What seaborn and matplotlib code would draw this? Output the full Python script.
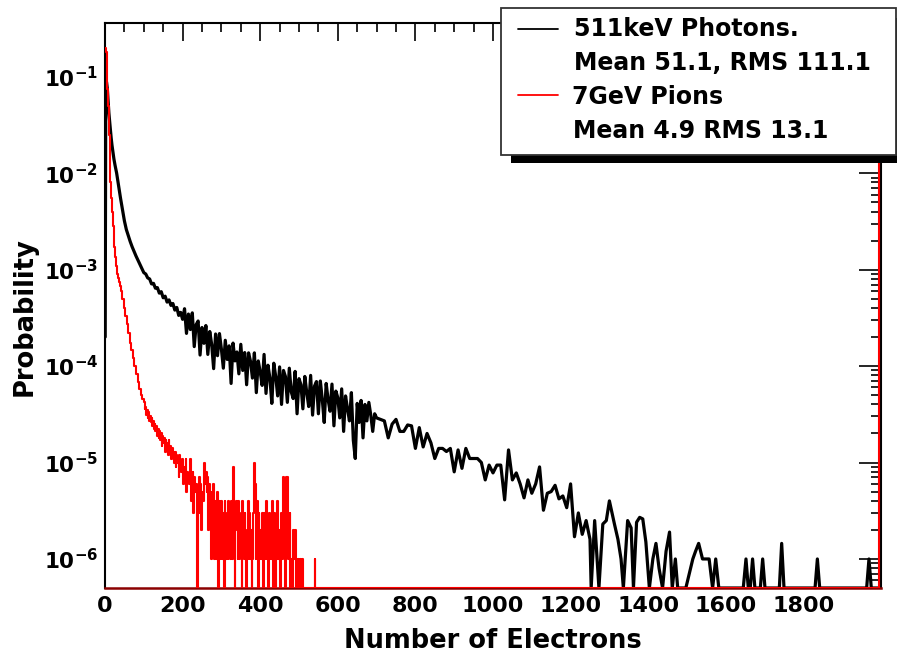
import numpy as np
import pandas as pd
import matplotlib
matplotlib.use("Agg")
import matplotlib.pyplot as plt
import seaborn as sns
from matplotlib.patches import Rectangle
from matplotlib.lines import Line2D
from matplotlib.ticker import FixedLocator, LogLocator, NullFormatter, FixedFormatter

# ---------------- data (probabilities in units of 1e-6) ----------------
UNIT = 1e-6

# 511 keV photons (black curve)
black_head_x = [0.5, 2, 4, 6, 8, 10, 12, 14, 16, 18, 20, 23, 26]
black_head_y = [200, 85000, 88000, 75000, 55000, 42000, 34000, 28000, 23000, 19500, 17000, 14000, 12000]

black_core_x = list(range(30, 705, 5))
black_core_y = [10000, 7400, 5500, 4200, 3200, 2600, 2250, 1950, 1720, 1540, 1380, 1250, 1130, 1020, 930,
                900, 820, 800, 710, 720, 640, 650, 570, 590, 510, 530, 460, 485, 425, 445, 380, 405, 335, 360, 305,
                393, 218, 346, 239, 356, 159, 269, 293, 130, 251,
                172, 263, 132, 228, 167, 94, 215, 128, 217, 150,
                95, 185, 117, 162, 66, 173, 113, 140, 83, 168,
                90, 138, 64, 137, 112, 75, 137, 53, 113, 87,
                63, 132, 52, 102, 75, 41, 107, 78, 49, 98,
                40, 90, 78, 42, 95, 54, 46, 88, 32, 74,
                64, 36, 78, 53, 38, 80, 31, 62, 69, 32,
                70, 45, 26, 66, 45, 34, 65, 24, 55, 47,
                29, 58, 21, 49, 36, 27, 53, 17, 11, 41,
                26, 44, 18, 40, 27, 42, 31, 21, 32, 29]

black_mid_x = list(range(710, 1260, 10))
black_mid_y = [28, 27, 18, 25, 28, 21, 21, 24.5, 24, 14,
               23, 14.5, 20, 16, 11, 14, 14, 13, 14, 8,
               13.5, 8.7, 14, 11, 11, 11, 10, 6.6, 9.4, 7.8,
               9.4, 9.4, 4.1, 13.5, 6.6, 7.8, 6, 4.3, 6.6, 4.8,
               6, 9, 3.2, 4.8, 5, 5.8, 4.2, 4.5, 3.4, 6,
               1.7, 3, 1.8, 2.5, 1.6]

black_tail_x = [1253, 1262, 1273, 1283, 1292, 1300, 1313, 1322, 1330, 1336,
                1347, 1356, 1362, 1370, 1378, 1386, 1394, 1403, 1412, 1420,
                1428, 1437, 1446, 1455, 1462, 1470, 1476, 1497, 1515, 1522,
                1530, 1540, 1557, 1566, 1574, 1582, 1645, 1652, 1658, 1663,
                1669, 1675, 1689, 1695, 1701, 1738, 1744, 1750, 1830, 1836,
                1842, 1963, 1969, 1975, 2000]
black_tail_y = [0, 2.5, 0, 2.3, 2.5, 4.0, 2.3, 1.6, 1.0, 0,
                2.5, 2.1, 0, 2.4, 2.7, 2.6, 1.5, 0, 1.0, 1.45,
                0.8, 0, 1.2, 1.9, 0, 1.0, 0, 0, 1.0, 1.2,
                1.45, 1.0, 1.0, 0, 1.0, 0, 0, 1.0, 0, 0,
                1.0, 0, 0, 1.0, 0, 0, 1.45, 0, 0, 1.0,
                0, 0, 1.0, 0, 0]

# 7 GeV pions (red histogram): three binning blocks (start, width, contents)
red_a_start, red_a_width = 0, 2
red_a_y = [200000, 180000, 120000, 75000, 50000, 25000, 12000, 8000, 5500, 4000,
           2800, 2200, 1700, 1350, 1100, 1000, 900, 820, 740, 670]
red_b_start, red_b_width = 40, 4
red_b_y = [600, 490, 400, 330, 270, 220, 175, 145, 120, 100, 82, 68, 58, 50, 45]
red_c_start, red_c_width = 100, 2
red_c_y = [42, 36, 38, 31, 35, 29, 33, 27, 30, 26,
           29, 24, 27, 22, 25, 21, 24, 19, 22, 18,
           21, 17, 20, 15, 19, 16, 18, 13, 17, 15,
           16, 12, 17, 13, 15, 11, 14, 12, 13, 10,
           13, 9, 12, 10, 11, 7, 12, 9, 8, 11,
           10, 6, 9, 8, 11, 5, 8, 7, 6, 9,
           11, 4, 7, 8, 3, 7, 5, 6, 2, 0,
           5, 7, 3, 6, 2, 5, 4, 8, 10, 6,
           8, 5, 7, 2, 6, 4, 5, 1, 3, 6,
           2, 1, 4, 1, 5, 3, 0, 4, 2, 1,
           4, 1, 3, 0, 4, 2, 1, 3, 1, 4,
           2, 1, 3, 4, 1, 9, 3, 0, 2, 4,
           3, 1, 4, 1, 2, 3, 0, 4, 2, 1,
           3, 1, 0, 2, 4, 1, 3, 1, 2, 0,
           1, 3, 10, 6, 1, 2, 4, 0, 3, 1,
           2, 1, 3, 1, 0, 3, 2, 1, 4, 1,
           0, 3, 1, 2, 1, 4, 1, 0, 3, 2,
           0, 1, 4, 1, 2, 1, 0, 3, 1, 1,
           7, 3, 0, 7, 2, 7, 1, 1, 3, 0,
           1, 0, 2, 1, 1, 2, 0, 1, 0, 1,
           0, 1, 0, 0, 1, 0, 0, 0, 0, 0,
           0, 0, 0, 0, 0, 0, 0, 0, 0, 0,
           1, 0, 0, 0, 0, 0, 0, 0, 0, 0]
red_last_bin = 13000        # bin 1996-2000

x_tick_labels = ["0", "200", "400", "600", "800", "1000", "1200", "1400", "1600", "1800"]
y_decades = [-6, -5, -4, -3, -2, -1]
legend_labels = ["511keV Photons.", "Mean 51.1, RMS 111.1", "7GeV Pions", "Mean 4.9 RMS 13.1"]

# ---------------- build frames ----------------
YMIN, YMAX = 5e-7, 0.36
black_x = black_head_x + black_core_x + black_mid_x + black_tail_x
black_v = black_head_y + black_core_y + black_mid_y + black_tail_y
black_df = pd.DataFrame({"x": black_x, "p": np.maximum(np.array(black_v) * UNIT, YMIN)})

red_edges, red_vals = [], []
for start, width, vals in [(red_a_start, red_a_width, red_a_y),
                           (red_b_start, red_b_width, red_b_y),
                           (red_c_start, red_c_width, red_c_y)]:
    red_edges += [start + i * width for i in range(len(vals))]
    red_vals += list(vals)
gap_start = red_c_start + len(red_c_y) * red_c_width
red_edges += [gap_start, 1996, 2000]
red_vals += [0, red_last_bin, red_last_bin]
red_df = pd.DataFrame({"edge": red_edges, "p": np.maximum(np.array(red_vals) * UNIT, YMIN)})

# ---------------- figure ----------------
sns.set_theme(style="white")
plt.rcParams["font.family"] = ["DejaVu Sans"]
plt.rcParams["font.weight"] = "bold"
plt.rcParams["mathtext.fontset"] = "dejavusans"
for key in ["text.color", "axes.labelcolor", "xtick.color", "ytick.color"]:
    plt.rcParams[key] = "black"

W, H = 897, 654
fig = plt.figure(figsize=(W / 100, H / 100), dpi=100)
fig.patch.set_facecolor("white")
ax = fig.add_axes([105 / W, 1 - 588 / H, 776 / W, 565 / H])
ax.set_facecolor("white")

sns.lineplot(data=black_df, x="x", y="p", color="black", lw=2.3,
             estimator=None, sort=False, ax=ax, zorder=2)
sns.lineplot(data=red_df, x="edge", y="p", color="#ff0000", lw=1.5,
             drawstyle="steps-post", estimator=None, sort=False, ax=ax, zorder=3)

ax.set_yscale("log")
ax.set_xlim(0, 2000)
ax.set_ylim(YMIN, YMAX)

# ticks
ax.xaxis.set_major_locator(FixedLocator([int(t) for t in x_tick_labels]))
ax.xaxis.set_major_formatter(FixedFormatter(x_tick_labels))
ax.xaxis.set_minor_locator(FixedLocator(list(range(0, 2001, 50))))
ax.yaxis.set_major_locator(FixedLocator([10.0 ** d for d in y_decades]))
ax.yaxis.set_major_formatter(FixedFormatter([r"$\mathbf{10^{%d}}$" % d for d in y_decades]))
ax.yaxis.set_minor_locator(LogLocator(base=10, subs=np.arange(2, 10), numticks=20))
ax.yaxis.set_minor_formatter(NullFormatter())

ax.tick_params(which="both", direction="in", top=True, right=True, color="black",
               labelcolor="black", width=1.2)
ax.tick_params(axis="x", which="major", length=13, pad=6, labelsize=16)
ax.tick_params(axis="x", which="minor", length=6.5)
ax.tick_params(axis="y", which="major", length=16, pad=5, labelsize=15.5)
ax.tick_params(axis="y", which="minor", length=7.5)
for lab in ax.get_xticklabels() + ax.get_yticklabels():
    lab.set_fontweight("bold")

for side in ["top", "left", "right"]:
    ax.spines[side].set_color("black")
    ax.spines[side].set_linewidth(1.5)
ax.spines["bottom"].set_color("#8b0000")
ax.spines["bottom"].set_linewidth(1.8)

ax.set_xlabel("Number of Electrons", fontsize=18.5, fontweight="bold", va="center", color="black")
ax.xaxis.set_label_coords(0.5, -0.094)
ax.set_ylabel("Probability", fontsize=18.5, fontweight="bold", va="center", color="black")
ax.yaxis.set_label_coords(-0.104, 0.481)
ax.grid(False)

# ---------------- legend (ROOT style with shadow) ----------------
def fx(px):
    return px / W

def fy(py):
    return 1 - py / H

shadow = Rectangle((fx(511), fy(163)), fx(906) - fx(511), fy(18) - fy(163),
                   transform=fig.transFigure, facecolor="black", edgecolor="none", zorder=10)
box = Rectangle((fx(501), fy(155)), fx(896) - fx(501), fy(8) - fy(155),
                transform=fig.transFigure, facecolor="white", edgecolor="#333333", lw=1.3, zorder=11)
fig.add_artist(shadow)
fig.add_artist(box)
fig.add_artist(Line2D([fx(518), fx(558)], [fy(29), fy(29)], color="black", lw=1.3,
                      transform=fig.transFigure, zorder=12))
fig.add_artist(Line2D([fx(518), fx(558)], [fy(95), fy(95)], color="#ff0000", lw=1.3,
                      transform=fig.transFigure, zorder=12))
for lbl, xpx, ypx in zip(legend_labels, [574, 574, 572, 573], [29, 63, 97, 131]):
    fig.text(fx(xpx), fy(ypx), lbl, fontsize=17, fontweight="bold", va="center", ha="left",
             color="black", zorder=13)

fig.savefig("out.png", dpi=100, facecolor="white")
